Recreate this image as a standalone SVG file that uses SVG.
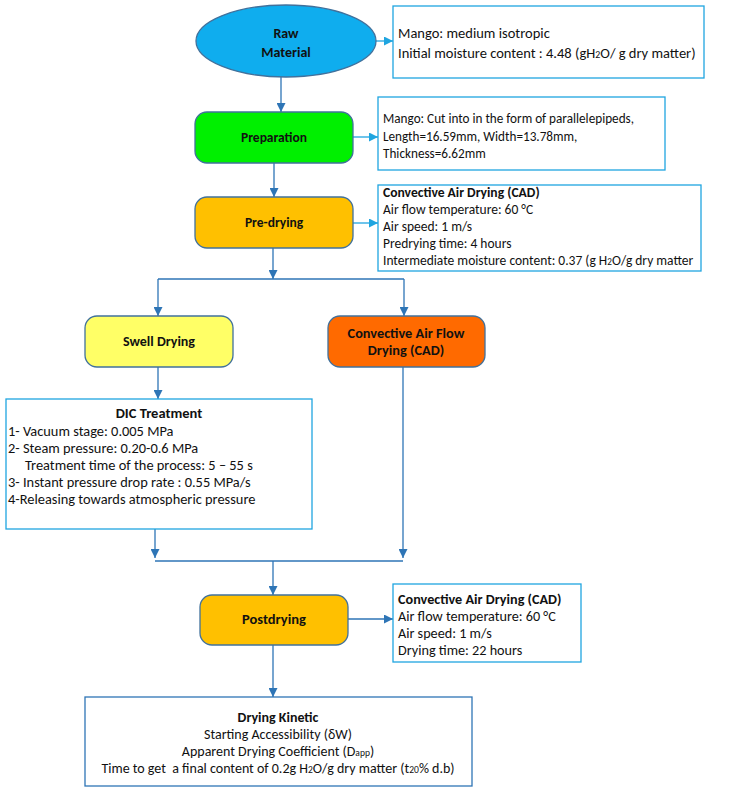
<svg xmlns="http://www.w3.org/2000/svg" width="745" height="795" viewBox="0 0 745 795">
<defs>
<marker id="ad" viewBox="0 0 10 10" refX="10" refY="5" markerWidth="9" markerHeight="9" markerUnits="userSpaceOnUse" orient="auto"><path d="M0,0 L10,5 L0,10 Z" fill="#2E75B6"/></marker>
<marker id="al" viewBox="0 0 10 10" refX="10" refY="5" markerWidth="9" markerHeight="9" markerUnits="userSpaceOnUse" orient="auto"><path d="M0,0 L10,5 L0,10 Z" fill="#1FA5E0"/></marker>
<style>
text{font-family:Carlito,Lato,"Liberation Sans",sans-serif;font-size:13.5px;fill:#111;white-space:pre}
.b{font-weight:bold}
.c{text-anchor:middle}
.s{font-size:0.68em}
.node{stroke:#41719C;stroke-width:1.3}
.info{fill:#fff;stroke:#1FA5E0;stroke-width:1.3}
.cd{fill:none;stroke:#2E75B6;stroke-width:1.3;marker-end:url(#ad)}
.cl{fill:none;stroke:#1FA5E0;stroke-width:1.3;marker-end:url(#al)}
.ln{fill:none;stroke:#2E75B6;stroke-width:1.3}
</style>
</defs>
<rect width="745" height="795" fill="#fff"/>
<g id="connectors">
<path class="cl" d="M376,41 H393"/>
<path class="cd" d="M281,77 V112"/>
<path class="cl" d="M353,137 H378"/>
<path class="cd" d="M274,163 V197"/>
<path class="cl" d="M353,223 H378"/>
<path class="cd" d="M273,248 V279"/>
<path class="ln" d="M158,279 H404"/>
<path class="cd" d="M158,279 V316"/>
<path class="cd" d="M404,279 V316"/>
<path class="cd" d="M158,367 V399"/>
<path class="cd" d="M403,367 V558"/>
<path class="cd" d="M155,529 V558"/>
<path class="ln" d="M155,561 H403"/>
<path class="cd" d="M273,561 V595"/>
<path class="cd" d="M348,619 H393"/>
<path class="cd" d="M273,645 V697"/>
</g>
<g id="raw-material">
<ellipse class="node" cx="286" cy="41" rx="90" ry="36" fill="#0FADEE"/>
<text class="b c" x="286" y="38" style="font-size:14px">Raw</text>
<text class="b c" x="286" y="57" style="font-size:14px">Material</text>
</g>
<g id="info-raw">
<rect class="info" x="393" y="6" width="311" height="72"/>
<text x="398" y="38" style="font-size:14.5px">Mango: medium isotropic</text>
<text x="398" y="58" style="font-size:14.5px">Initial moisture content : 4.48 (gH<tspan class="s">2</tspan>O/ g dry matter)</text>
</g>
<g id="preparation">
<rect class="node" x="195" y="112" width="158" height="51" rx="12" fill="#00F000"/>
<text class="b c" x="274" y="142">Preparation</text>
</g>
<g id="info-preparation">
<rect class="info" x="378" y="97" width="287" height="73"/>
<text x="383" y="123" style="font-size:13.2px">Mango: Cut into in the form of parallelepipeds,</text>
<text x="383" y="141" style="font-size:13.2px">Length=16.59mm, Width=13.78mm,</text>
<text x="383" y="158" style="font-size:13.2px">Thickness=6.62mm</text>
</g>
<g id="pre-drying">
<rect class="node" x="195" y="197" width="158" height="51" rx="12" fill="#FFC000"/>
<text class="b c" x="274" y="227">Pre-drying</text>
</g>
<g id="info-predrying">
<rect class="info" x="378" y="185" width="323" height="86"/>
<text class="b" x="383" y="197" style="font-size:13.6px">Convective Air Drying (CAD)</text>
<text x="383" y="214" style="font-size:13.5px">Air flow temperature: 60 °C</text>
<text x="383" y="231" style="font-size:13.5px">Air speed: 1 m/s</text>
<text x="383" y="248" style="font-size:13.5px">Predrying time: 4 hours</text>
<text x="383" y="265" style="font-size:13.5px">Intermediate moisture content: 0.37 (g H<tspan class="s">2</tspan>O/g dry matter</text>
</g>
<g id="swell-drying">
<rect class="node" x="85" y="316" width="148" height="51" rx="12" fill="#FFFF66"/>
<text class="b c" x="159" y="346" style="font-size:14px">Swell Drying</text>
</g>
<g id="cad-flow">
<rect class="node" x="328" y="316" width="157" height="51" rx="12" fill="#FF6A00"/>
<text class="b c" x="406" y="338" style="font-size:14.3px">Convective Air Flow</text>
<text class="b c" x="406" y="355" style="font-size:14.3px">Drying (CAD)</text>
</g>
<g id="dic-treatment">
<rect class="info" x="6" y="399" width="306" height="130"/>
<text class="b c" x="159" y="418" style="font-size:14.5px">DIC Treatment</text>
<text x="8" y="436" style="font-size:14.4px">1- Vacuum stage: 0.005 MPa</text>
<text x="8" y="453" style="font-size:14.4px">2- Steam pressure: 0.20-0.6 MPa</text>
<text x="25" y="470" style="font-size:14.4px">Treatment time of the process: 5 – 55 s</text>
<text x="8" y="487" style="font-size:14.4px">3- Instant pressure drop rate : 0.55 MPa/s</text>
<text x="8" y="504" style="font-size:14.4px">4-Releasing towards atmospheric pressure</text>
</g>
<g id="postdrying">
<rect class="node" x="200" y="595" width="148" height="50" rx="12" fill="#FFC000"/>
<text class="b c" x="274" y="624" style="font-size:14.5px">Postdrying</text>
</g>
<g id="info-postdrying">
<rect class="info" x="393" y="584" width="188" height="78"/>
<text class="b" x="398" y="604" style="font-size:14.2px">Convective Air Drying (CAD)</text>
<text x="398" y="621" style="font-size:14.2px">Air flow temperature: 60 °C</text>
<text x="398" y="638" style="font-size:14.2px">Air speed: 1 m/s</text>
<text x="398" y="655" style="font-size:14.2px">Drying time: 22 hours</text>
</g>
<g id="drying-kinetic">
<rect class="info" x="85" y="697" width="387" height="89" style="stroke:#2E75B6"/>
<text class="b c" x="278" y="722" style="font-size:14px">Drying Kinetic</text>
<text class="c" x="278" y="739" style="font-size:14px">Starting Accessibility (δW)</text>
<text class="c" x="278" y="756" style="font-size:14px">Apparent Drying Coefficient (D<tspan class="s">app</tspan>)</text>
<text class="c" x="278" y="773" style="font-size:14px">Time to get  a final content of 0.2g H<tspan class="s">2</tspan>O/g dry matter (t<tspan class="s">20</tspan>% d.b)</text>
</g>
</svg>
